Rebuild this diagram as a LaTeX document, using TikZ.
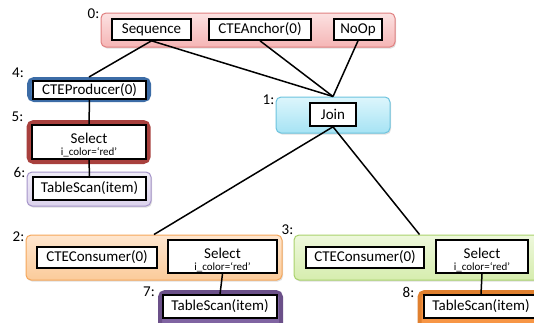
\documentclass[tikz,border=0pt]{standalone}
\usepackage{fontspec}
\setmainfont{Carlito}
\usetikzlibrary{shadows}
\definecolor{gzeroA}{HTML}{FCE2E2}
\definecolor{gzeroB}{HTML}{F5B5B5}
\definecolor{gzeroD}{HTML}{E08080}
\definecolor{goneA}{HTML}{DDF6FC}
\definecolor{goneB}{HTML}{A6E3F4}
\definecolor{goneD}{HTML}{6CC3DE}
\definecolor{gtwoA}{HTML}{FEE6CF}
\definecolor{gtwoB}{HTML}{FBCB9A}
\definecolor{gtwoD}{HTML}{F5A65A}
\definecolor{gthrA}{HTML}{EEF8DC}
\definecolor{gthrB}{HTML}{D6EDAE}
\definecolor{gthrD}{HTML}{A9D26C}
\definecolor{gsixA}{HTML}{F0ECF7}
\definecolor{gsixB}{HTML}{DCD3EC}
\definecolor{gsixD}{HTML}{A493C9}
\definecolor{cblue}{HTML}{4F81BD}
\definecolor{cblueD}{HTML}{3C6CA6}
\definecolor{cred}{HTML}{C0504D}
\definecolor{credD}{HTML}{A8403D}
\definecolor{cpurp}{HTML}{8064A2}
\definecolor{cpurpD}{HTML}{6B5089}
\definecolor{corng}{HTML}{F79646}
\definecolor{corngD}{HTML}{E0802F}
\newcommand{\seltext}{\rule{0pt}{17pt}Select\\[-6pt]{\fontsize{11}{12}\selectfont i\_color=‘red’}}
\begin{document}
\begin{tikzpicture}[x=1pt,y=-1pt,
  grp/.style={rounded corners=5pt, line width=1pt, inner sep=0pt,
    drop shadow={shadow xshift=1pt,shadow yshift=-1.5pt,opacity=0.25}},
  thk/.style={rounded corners=5pt, line width=4pt, inner sep=0pt,
    drop shadow={shadow xshift=1pt,shadow yshift=-1.5pt,opacity=0.25}},
  op/.style={draw=black, fill=white, line width=1.6pt, inner sep=0pt,
    font=\fontsize{15}{18}\selectfont},
  selop/.style={op, align=center},
  lbl/.style={font=\fontsize{15}{18}\selectfont, anchor=east, inner sep=1pt},
  conn/.style={line width=1.5pt, black},
]
\useasboundingbox (0,0) rectangle (534,322);
\clip (0,0) rectangle (534,322);

% group 0
\node[grp, draw=gzeroD, top color=gzeroA, bottom color=gzeroB,
  minimum width=294pt, minimum height=34pt] (g0) at (248,30) {};
\node[op, minimum width=79pt, minimum height=21pt] (seq) at (151.5,29.5) {Sequence};
\node[op, minimum width=102pt, minimum height=21pt] (anc) at (260,29.5) {CTEAnchor(0)};
\node[op, minimum width=48pt, minimum height=21pt] (noop) at (358,29.5) {NoOp};

% group 4
\node[thk, draw=cblueD, fill=cblue, minimum width=120pt, minimum height=21pt] (g4) at (89,89.5) {};
\node[op, minimum width=113pt, minimum height=18pt] (prod) at (89.5,90) {CTEProducer(0)};

% group 5
\node[thk, draw=credD, fill=cred, minimum width=120pt, minimum height=40pt] (g5) at (88.5,142) {};
\node[selop, minimum width=114pt, minimum height=34pt] (sel5) at (89,142) {\seltext};

% group 6
\node[grp, draw=gsixD, top color=gsixA, bottom color=gsixB,
  minimum width=124pt, minimum height=34pt] (g6) at (89,189) {};
\node[op, minimum width=113pt, minimum height=23pt] (ts6) at (89.5,188.5) {TableScan(item)};

% group 1
\node[grp, draw=goneD, top color=goneA, bottom color=goneB,
  minimum width=114pt, minimum height=36pt] (g1) at (333,115) {};
\node[op, minimum width=46pt, minimum height=23pt] (join) at (333,114.5) {Join};

% group 2
\node[grp, draw=gtwoD, top color=gtwoA, bottom color=gtwoB,
  minimum width=256pt, minimum height=45pt] (g2) at (154,257.5) {};
\node[op, minimum width=120pt, minimum height=21pt] (cons2) at (97,257.5) {CTEConsumer(0)};
\node[selop, minimum width=109pt, minimum height=33pt] (sel2) at (222.5,256.5) {\seltext};

% group 7
\node[thk, draw=cpurpD, fill=cpurp, minimum width=121pt, minimum height=36pt] (g7) at (220.5,310) {};
\node[op, minimum width=114pt, minimum height=23pt] (ts7) at (220,306.5) {TableScan(item)};

% group 3
\node[grp, draw=gthrD, top color=gthrA, bottom color=gthrB,
  minimum width=251pt, minimum height=45pt] (g3) at (419.5,257.5) {};
\node[op, minimum width=118pt, minimum height=21pt] (cons3) at (365,257.5) {CTEConsumer(0)};
\node[selop, minimum width=92pt, minimum height=33pt] (sel3) at (482,256.5) {\seltext};

% group 8
\node[thk, draw=corngD, fill=corng, minimum width=123pt, minimum height=36pt] (g8) at (481,310) {};
\node[op, minimum width=114pt, minimum height=23pt] (ts8) at (481,306.5) {TableScan(item)};

% labels
\node[lbl] at ([yshift=-1pt]g0.north west) {0:};
\node[lbl] at ([xshift=-2pt,yshift=4pt]g4.north west) {4:};
\node[lbl] at ([xshift=-2pt,yshift=3pt]g5.north west) {5:};
\node[lbl] at ([yshift=-1pt]g6.north west) {6:};
\node[lbl] at ([yshift=-3pt]g1.north west) {1:};
\node[lbl] at ([yshift=-2pt]g2.north west) {2:};
\node[lbl] at ([xshift=1pt,yshift=5pt]g3.north west) {3:};
\node[lbl] at ([xshift=-2pt,yshift=-2pt]g7.north west) {7:};
\node[lbl] at ([xshift=-2pt,yshift=-2pt]g8.north west) {8:};

% connectors
\draw[conn] (seq.south) -- (g4.north);
\draw[conn] (seq.south) -- (g1.north);
\draw[conn] (anc.south) -- (g1.north);
\draw[conn] (noop.south) -- (g1.north);
\draw[conn] (prod.south) -- (sel5.north);
\draw[conn] (sel5.south) -- (ts6.north);
\draw[conn] (join.south) -- (g2.north);
\draw[conn] (join.south) -- (g3.north);
\draw[conn] (sel2.south) -- (ts7.north);
\draw[conn] (sel3.south) -- (ts8.north);
\end{tikzpicture}
\end{document}
